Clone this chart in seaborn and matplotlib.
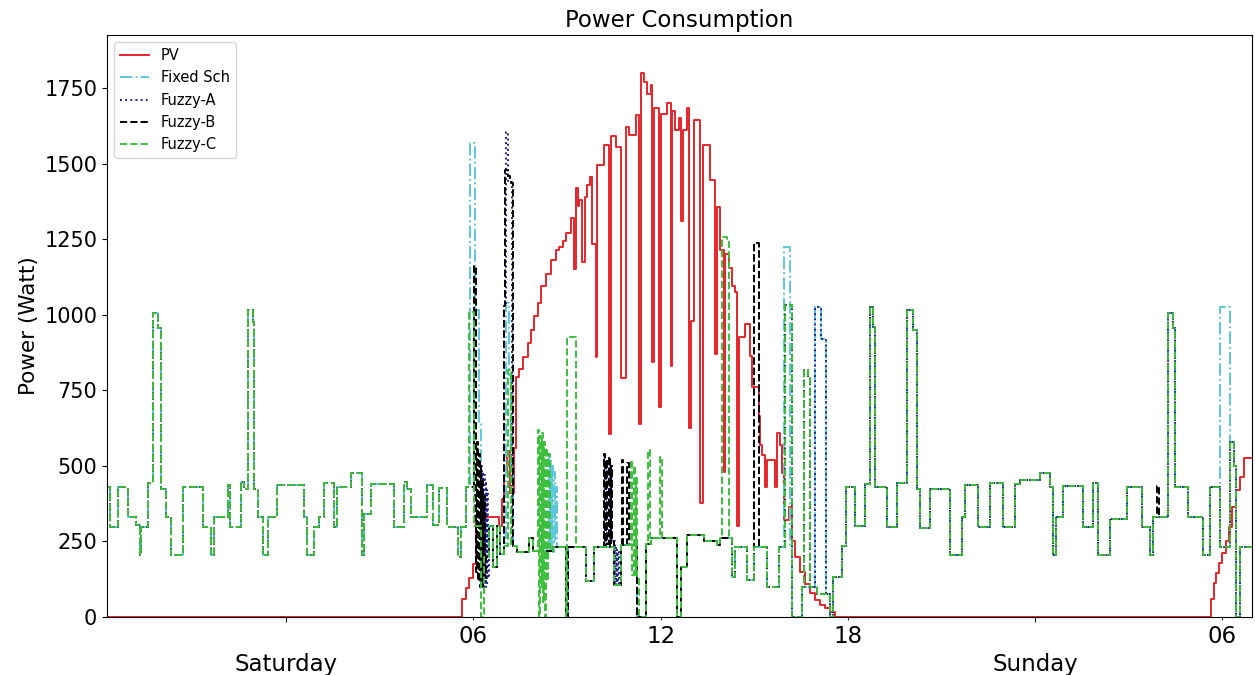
import numpy as np
import pandas as pd
import matplotlib
matplotlib.use("Agg")
import matplotlib.pyplot as plt
import seaborn as sns

# ---- data (hours from Saturday 00:00, watts), step breakpoints ----
pv_t = [-5.75, 5.65, 5.76, 5.86, 5.98, 6.08, 6.82, 6.92, 7.00, 7.08, 7.18, 7.30, 7.36, 7.46,
        7.58, 7.74, 7.84, 7.94, 8.06, 8.16, 8.32, 8.48, 8.64, 8.74, 8.86, 8.96, 9.12, 9.22,
        9.28, 9.34, 9.40, 9.50, 9.57, 9.66, 9.74, 9.82, 9.92, 9.98, 10.18, 10.34, 10.40,
        10.56, 10.72, 10.88, 10.98, 11.20, 11.30, 11.36, 11.46, 11.58, 11.68, 11.74, 11.80,
        11.94, 12.00, 12.22, 12.32, 12.38, 12.45, 12.58, 12.64, 12.72, 12.86, 12.90, 12.96,
        13.06, 13.28, 13.36, 13.60, 13.76, 13.82, 13.92, 14.02, 14.08, 14.18, 14.30, 14.40,
        14.46, 14.52, 14.72, 14.88, 14.94, 15.14, 15.20, 15.26, 15.36, 15.42, 15.68, 15.74, 15.84,
        15.90, 15.97, 16.10, 16.22, 16.32, 16.48, 16.64, 16.80, 16.96, 17.12, 17.28, 17.44,
        17.60, 29.64, 29.72, 29.80, 29.90, 30.00, 30.10, 30.20, 30.32, 30.44, 30.56, 30.70,
        30.95]
pv_w = [0, 60, 95, 130, 175, 330, 300, 390, 470, 550, 410, 560, 795, 820,
        860, 905, 950, 995, 1040, 1095, 1135, 1180, 1215, 1225, 1245, 1270, 1320, 1150,
        1420, 1360, 1380, 1175, 1390, 1430, 1455, 1235, 860, 1495, 1560, 605, 1590,
        1555, 790, 1620, 1595, 1660, 640, 1800, 1770, 1730, 1760, 845, 1685,
        695, 1665, 1700, 830, 1675, 1610, 1650, 1310, 1610, 1685, 625, 980,
        1645, 377, 1560, 1445, 870, 1355, 1215, 480, 1200, 1155, 1095, 1075,
        300, 925, 970, 865, 760, 665, 570, 535, 430, 520, 430, 610, 570,
        475, 320, 365, 250, 200, 150, 110, 80, 55, 40, 30, 15,
        0, 60, 112, 145, 178, 211, 250, 299, 365, 420, 464, 525,
        525]

# household load shared by every schedule (night before, daytime, night after)
night1_t = [-5.75, -5.65, -5.39, -5.07, -4.80, -4.69, -4.64, -4.43, -4.27, -4.10, -4.00,
            -3.84, -3.68, -3.31, -2.67, -2.40, -2.29, -1.87, -1.78, -1.44, -1.33, -1.23,
            -1.07, -1.01, -0.91, -0.75, -0.59, -0.27, 0.59, 0.69, 0.91, 1.07, 1.23, 1.55,
            1.65, 2.08, 2.45, 2.51, 2.72, 3.47, 3.79, 3.89, 4.00, 4.53, 4.70, 4.90, 5.15,
            5.50, 5.60, 5.78]
night1_w = [431, 299, 430, 332, 304, 205, 299, 442, 1005, 955, 425,
            332, 205, 431, 299, 205, 332, 436, 299, 447, 425, 1015,
            975, 425, 332, 205, 332, 436, 332, 205, 299, 332, 442, 299,
            430, 475, 205, 342, 440, 299, 447, 425, 332, 436, 304, 426, 299,
            200, 299, 430]

day_t = [6.05, 6.30, 6.50, 6.62, 6.75, 6.85, 6.98, 7.40, 7.80, 7.90, 8.55, 8.96, 9.02,
         9.60, 9.86, 10.50, 10.72, 11.26, 11.52, 11.68, 12.54, 12.64, 12.86, 13.40, 13.82,
         13.92, 14.30, 14.40, 14.78, 14.98, 15.42, 15.78, 16.22, 16.54, 17.00, 17.44]
day_w = [300, 200, 300, 166, 300, 210, 235, 215, 260, 220, 230, 0, 230,
         120, 230, 105, 237, 0, 240, 260, 0, 166, 270, 250, 237,
         262, 133, 233, 122, 233, 100, 233, 0, 100, 77, 0]

night2_t = [17.54, 17.82, 17.95, 18.24, 18.56, 18.72, 18.82, 18.88, 19.26, 19.58, 19.90,
            20.10, 20.22, 20.32, 20.64, 21.28, 21.66, 21.76, 22.18, 22.56, 22.98, 23.36,
            23.52, 24.16, 24.48, 24.58, 24.66, 24.90, 25.54, 25.86, 26.02, 26.40, 26.94,
            27.42, 27.68, 27.78, 28.26, 28.42, 28.48, 28.90, 29.38, 29.60, 29.92, 30.24,
            30.36, 30.44, 30.56, 30.95]
night2_w = [133, 235, 431, 300, 440, 1026, 960, 431, 299, 442, 1015,
            950, 425, 295, 425, 205, 332, 436, 299, 442, 299, 440,
            453, 475, 431, 205, 332, 435, 299, 442, 205, 325, 431,
            299, 205, 332, 1004, 955, 431, 332, 205, 431, 233, 580,
            500, 0, 233, 233]

# appliance runs that differ between schedules: (start h, end h, readings)
fixed_runs = [(5.90, 6.06, [1568, 1568]), (6.06, 6.30, [1015, 1015, 640, 380]),
              (7.04, 7.26, [1040, 1040, 800, 500]),
              (8.42, 8.70, [540, 220, 520, 230, 500, 216, 480, 250, 430, 230]),
              (15.94, 16.16, [1225, 1225]), (16.96, 17.31, [1026, 1026, 920, 920]),
              (29.92, 30.24, [1026, 1026])]
fuzzy_a_runs = [(6.24, 6.50, [500, 120, 480, 100, 470, 110, 450, 100, 420, 130]),
                (7.00, 7.24, [1030, 1605, 1605, 1440, 1440, 1440]),
                (10.18, 10.50, [540, 230, 520, 240, 530, 230, 500, 250]),
                (10.50, 10.72, [250, 105, 230, 105, 220, 105]),
                (14.98, 15.14, [1236, 1236]), (16.00, 16.22, [1032, 1032]),
                (16.96, 17.31, [1026, 1026, 920, 920])]
fuzzy_b_runs = [(6.02, 6.40, [1160, 1160, 600, 150, 580, 120, 540, 100, 500, 120, 450, 100, 400, 130]),
                (6.98, 7.26, [1030, 1480, 1480, 1460, 1440, 1435]),
                (10.18, 10.50, [540, 230, 520, 240, 530, 230, 500, 250]),
                (10.76, 10.98, [520, 237, 237, 237, 510]),
                (14.98, 15.14, [1236, 1236]), (16.00, 16.22, [1032, 1032]),
                (16.58, 16.80, [817, 817, 790]), (27.90, 27.96, [432])]
fuzzy_c_runs = [(5.86, 6.02, [1010, 1010]), (6.02, 6.34, [300, 300, 300, 0]),
                (7.10, 7.20, [817]),
                (8.06, 8.48, [620, 0, 600, 100, 610, 50, 580, 0, 560, 120, 540, 230]),
                (8.99, 9.28, [927, 927, 927]),
                (11.06, 11.30, [520, 140, 500, 140, 460, 133]),
                (11.60, 11.66, [552]), (11.98, 12.04, [530]),
                (13.98, 14.18, [1258, 1258, 1240]), (16.00, 16.22, [1032, 1032]),
                (16.58, 16.80, [817, 817, 790])]

base = pd.Series(night1_w + day_w + night2_w, index=night1_t + day_t + night2_t)


def schedule(runs):
    s = base.copy()
    for start, end, vals in runs:
        resume = base[base.index <= end].iloc[-1]
        s = s[(s.index < start) | (s.index > end)]
        times = np.linspace(start, end, len(vals), endpoint=False)
        s = pd.concat([s, pd.Series(vals, index=times), pd.Series([resume], index=[end])])
        s = s[~s.index.duplicated(keep="last")].sort_index()
    return s


series = [
    ("PV", pd.Series(pv_w, index=pv_t), "#e3262b", "-", 1.4),
    ("Fixed Sch", schedule(fixed_runs), "#5cc6dc", "-.", 1.4),
    ("Fuzzy-A", schedule(fuzzy_a_runs), "#1f1f8f", ":", 1.4),
    ("Fuzzy-B", schedule(fuzzy_b_runs), "black", "--", 1.4),
    ("Fuzzy-C", schedule(fuzzy_c_runs), "#3cbf3c", "--", 1.4),
]

fig = plt.figure(figsize=(12.55, 6.75), dpi=100)
ax = fig.add_axes([0.0853, 0.0859, 0.9124, 0.8622])

for name, s, color, ls, lw in series:
    sns.lineplot(x=s.index.values, y=s.values, ax=ax, color=color, linestyle=ls,
                 linewidth=lw, drawstyle="steps-post", estimator=None, label=name)

ax.set_xlim(-5.73, 30.95)
ax.set_ylim(0, 1925)
ax.set_yticks([0, 250, 500, 750, 1000, 1250, 1500, 1750])
ax.tick_params(axis="y", labelsize=15)

ax.set_xticks([0, 24])
ax.set_xticklabels(["\nSaturday", "\nSunday"], fontsize=16.5)
ax.set_xticks([6, 12, 18, 30], minor=True)
ax.set_xticklabels(["06", "12", "18", "06"], minor=True, fontsize=16.5)
ax.set_xlabel("")

ax.set_ylabel("Power (Watt)", fontsize=15.5)
ax.set_title("Power Consumption", fontsize=16.5)
ax.legend(loc="upper left", fontsize=10.5)

fig.savefig("out.png", dpi=100)
